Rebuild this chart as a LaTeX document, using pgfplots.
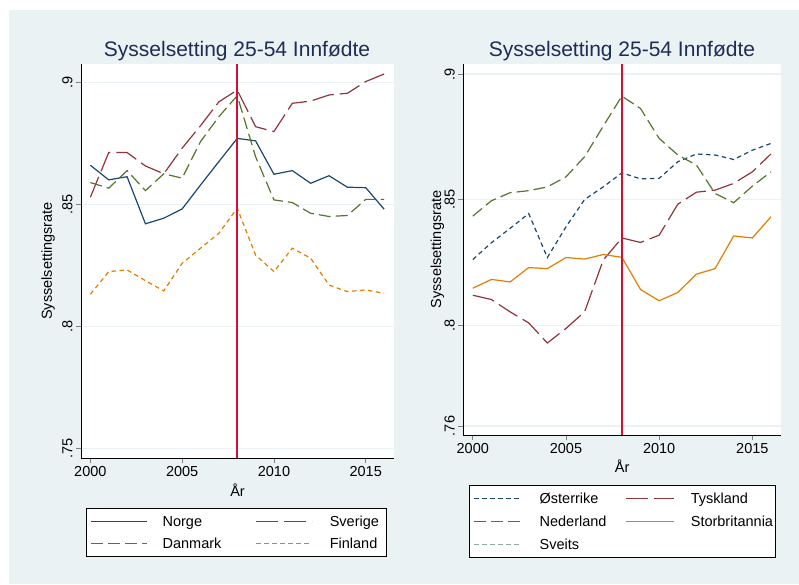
\documentclass[border=0pt]{standalone}
\usepackage{fontspec}
\setmainfont{Liberation Sans}
\usepackage{pgfplots}
\pgfplotsset{compat=1.18}
\definecolor{stnavy}{RGB}{26,71,111}
\definecolor{stmaroon}{RGB}{144,53,59}
\definecolor{stgreen}{RGB}{85,117,47}
\definecolor{storange}{RGB}{227,126,0}
\definecolor{stteal}{RGB}{140,170,160}
\definecolor{bluishgray}{RGB}{234,242,243}
\definecolor{titlenavy}{RGB}{30,45,85}
\definecolor{crisisred}{RGB}{210,16,52}

% Stata-like look shared by both panels
\pgfplotsset{
  statastyle/.style={
    scale only axis,
    xmin=1999.49, xmax=2016.54,
    axis x line*=bottom, axis y line*=left,
    axis line style={line width=0.8pt, -},
    xtick={2000,2005,2010,2015},
    xticklabels={2000,2005,2010,2015},
    tick label style={font=\fontsize{14.5}{16}\selectfont},
    yticklabel style={rotate=90, anchor=south},
    tick style={line width=0.8pt},
    tick align=outside, major tick length=5pt,
    ymajorgrids, grid style={bluishgray, line width=1.3pt},
    axis background/.style={fill=white},
    xlabel={År}, ylabel={Sysselsettingsrate},
    label style={font=\fontsize{14.5}{16}\selectfont},
    legend columns=2,
    legend cell align=left,
    legend style={line width=0.8pt,
      font=\fontsize{14.5}{16}\selectfont,
      inner xsep=4pt, inner ysep=5pt},
    every axis plot/.append style={line width=1.2pt},
  },
  longdash/.style={dash pattern=on 22pt off 6pt},
  meddash/.style={dash pattern=on 12pt off 5pt},
  shortdash/.style={dash pattern=on 4.5pt off 3.5pt},
}

\begin{document}
\begin{tikzpicture}
\fill[white] (0pt,0pt) rectangle (799pt,584pt);
\fill[bluishgray] (9pt,0pt) rectangle (799pt,574pt);
\useasboundingbox (0pt,0pt) rectangle (799pt,584pt);

\node[font=\fontsize{21}{24}\selectfont, text=titlenavy] at (237pt,533pt) {Sysselsetting 25-54 Innfødte};
\node[font=\fontsize{21}{24}\selectfont, text=titlenavy] at (622pt,533pt) {Sysselsetting 25-54 Innfødte};

% left panel: Nordic countries
\begin{axis}[statastyle,
  at={(81pt,126pt)}, anchor=south west,
  width=313pt, height=394pt,
  ymin=0.746, ymax=0.9075,
  ytick={0.75,0.8,0.85,0.9}, yticklabels={.75,.8,.85,.9},
  xlabel style={at={(axis description cs:0.5,-0.081)}, anchor=center},
  ylabel style={at={(axis description cs:-0.105,0.5)}, anchor=center},
  legend style={at={(axis description cs:0.016,-0.128)}, anchor=north west,
    row sep=6pt},
  legend image code/.code={\draw[#1] (0pt,0pt) -- (56pt,0pt);},
]
\addplot[stnavy, solid] coordinates {
 (2000,0.866) (2001,0.860) (2002,0.8613) (2003,0.842) (2004,0.8443) (2005,0.8481)
 (2006,0.8579) (2007,0.8675) (2008,0.8770) (2009,0.8760) (2010,0.8623) (2011,0.8638)
 (2012,0.8586) (2013,0.8617) (2014,0.8570) (2015,0.8568) (2016,0.8480)};
\addlegendentry{\makebox[104pt][l]{\hspace{13pt}Norge}}
\addplot[stmaroon, longdash] coordinates {
 (2000,0.8529) (2001,0.8712) (2002,0.8712) (2003,0.8657) (2004,0.8625) (2005,0.8730)
 (2006,0.8822) (2007,0.8920) (2008,0.8968) (2009,0.8818) (2010,0.8798) (2011,0.8914)
 (2012,0.8923) (2013,0.8948) (2014,0.8955) (2015,0.9003) (2016,0.9034)};
\addlegendentry{\makebox[66pt][l]{\hspace{15pt}Sverige}}
\addplot[stgreen, meddash] coordinates {
 (2000,0.8589) (2001,0.8566) (2002,0.8638) (2003,0.8556) (2004,0.8625) (2005,0.8607)
 (2006,0.8757) (2007,0.8859) (2008,0.8945) (2009,0.8695) (2010,0.8518) (2011,0.8507)
 (2012,0.8463) (2013,0.8450) (2014,0.8454) (2015,0.8520) (2016,0.8520)};
\addlegendentry{\makebox[104pt][l]{\hspace{13pt}Danmark}}
\addplot[storange, shortdash] coordinates {
 (2000,0.8131) (2001,0.8224) (2002,0.8231) (2003,0.8187) (2004,0.8145) (2005,0.8258)
 (2006,0.8320) (2007,0.8381) (2008,0.8484) (2009,0.8292) (2010,0.8224) (2011,0.8320)
 (2012,0.8279) (2013,0.8169) (2014,0.8142) (2015,0.8149) (2016,0.8135)};
\addlegendentry{\makebox[66pt][l]{\hspace{15pt}Finland}}
% 2008 reference line
\addplot[color=crisisred, solid, line width=1.8pt, forget plot] coordinates {(2008,0.746) (2008,0.9075)};
\end{axis}

% right panel: continental Europe and UK
\begin{axis}[statastyle,
  at={(463.3pt,149pt)}, anchor=south west,
  width=317.7pt, height=371pt,
  ymin=0.7564, ymax=0.904,
  ytick={0.76,0.8,0.85,0.9}, yticklabels={.76,.8,.85,.9},
  xlabel style={at={(axis description cs:0.5,-0.0836)}, anchor=center},
  ylabel style={at={(axis description cs:-0.082,0.5)}, anchor=center},
  legend style={at={(axis description cs:0.018,-0.136)}, anchor=north west,
    row sep=7pt},
  legend image code/.code={\draw[#1] (0pt,0pt) -- (48pt,0pt);},
]
\addplot[stnavy, shortdash] coordinates {
 (2000,0.8262) (2001,0.8329) (2002,0.8386) (2003,0.8445) (2004,0.8270) (2005,0.8392)
 (2006,0.8501) (2007,0.8551) (2008,0.8607) (2009,0.8583) (2010,0.8585) (2011,0.8651)
 (2012,0.8682) (2013,0.8678) (2014,0.8660) (2015,0.8697) (2016,0.8724)};
\addlegendentry{\makebox[99pt][l]{\hspace{15pt}Østerrike}}
\addplot[stmaroon, longdash] coordinates {
 (2000,0.8120) (2001,0.8103) (2002,0.8054) (2003,0.8010) (2004,0.7930) (2005,0.7988)
 (2006,0.8054) (2007,0.8260) (2008,0.8348) (2009,0.8330) (2010,0.8359) (2011,0.8482)
 (2012,0.8530) (2013,0.8538) (2014,0.8565) (2015,0.8611) (2016,0.8682)};
\addlegendentry{\makebox[93pt][l]{\hspace{14pt}Tyskland}}
\addplot[stgreen, meddash] coordinates {
 (2000,0.8435) (2001,0.8496) (2002,0.8528) (2003,0.8536) (2004,0.8551) (2005,0.8591)
 (2006,0.8671) (2007,0.8793) (2008,0.8912) (2009,0.8863) (2010,0.8744) (2011,0.8678)
 (2012,0.8638) (2013,0.8525) (2014,0.8488) (2015,0.8554) (2016,0.8611)};
\addlegendentry{\makebox[99pt][l]{\hspace{15pt}Nederland}}
\addplot[storange, solid] coordinates {
 (2000,0.8148) (2001,0.8183) (2002,0.8173) (2003,0.8230) (2004,0.8226) (2005,0.8270)
 (2006,0.8264) (2007,0.8282) (2008,0.8271) (2009,0.8143) (2010,0.8098) (2011,0.8131)
 (2012,0.8204) (2013,0.8226) (2014,0.8356) (2015,0.8348) (2016,0.8432)};
\addlegendentry{\makebox[93pt][l]{\hspace{14pt}Storbritannia}}
\addlegendimage{stteal, shortdash, line width=1.2pt}
\addlegendentry{\makebox[99pt][l]{\hspace{15pt}Sveits}}
% 2008 reference line
\addplot[color=crisisred, solid, line width=1.8pt, forget plot] coordinates {(2008,0.7564) (2008,0.904)};
\end{axis}
\end{tikzpicture}
\end{document}
